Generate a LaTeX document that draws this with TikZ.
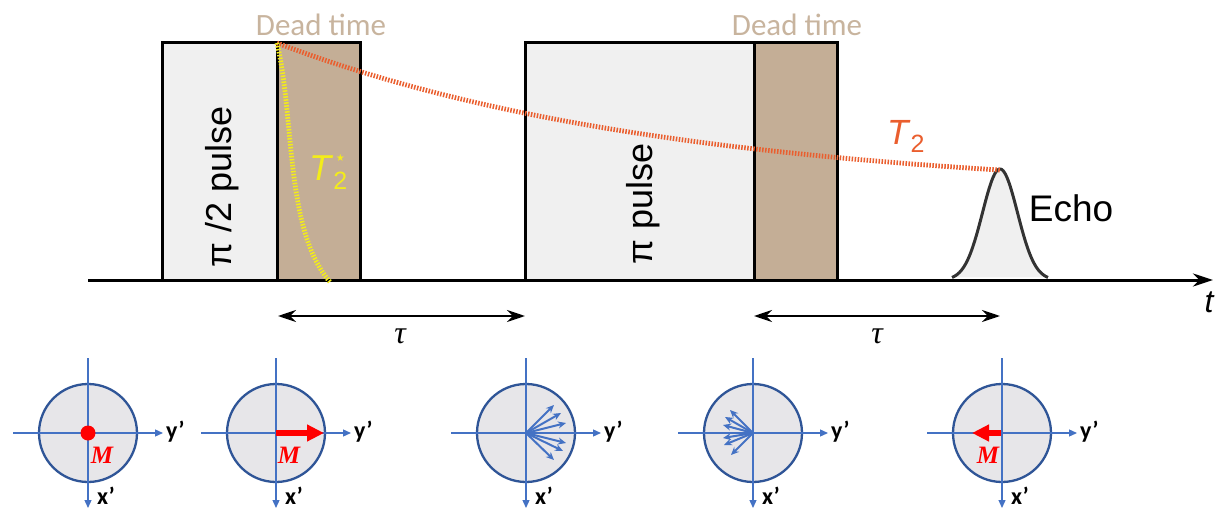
\documentclass[tikz,border=0pt]{standalone}
\usepackage{fontspec}
\setmainfont{Liberation Sans}
\newfontfamily\carlito{Carlito}
\newfontfamily\lserif{Liberation Serif}
\newfontfamily\djv{DejaVu Sans}
\usetikzlibrary{arrows.meta,calc}
\definecolor{boxfill}{HTML}{F0F0F0}
\definecolor{deadfill}{HTML}{C4AE96}
\definecolor{deadtxt}{HTML}{C8B49E}
\definecolor{tworange}{HTML}{EA5E2E}
\definecolor{twyellow}{HTML}{F3EC1A}
\definecolor{echoline}{HTML}{333333}
\definecolor{axblue}{HTML}{4472C4}
\definecolor{cstroke}{HTML}{2F5597}
\definecolor{cfill}{HTML}{E7E6E9}
\begin{document}
\begin{tikzpicture}[x=1pt,y=-1pt,
  pulsebox/.style={draw=black, line width=3pt, fill=boxfill, inner sep=0pt, outer sep=0pt, minimum height=237pt},
  deadbox/.style={pulsebox, fill=deadfill},
  decay/.style={line width=4.8pt, dash pattern=on 1.5pt off 1.5pt},
  deadlbl/.style={text=deadtxt, font=\carlito\fontsize{31}{31}\selectfont},
  pulselbl/.style={rotate=90, font=\fontsize{36}{36}\selectfont},
  tauarrow/.style={line width=2.5pt, {Stealth[length=18pt,width=12pt]}-{Stealth[length=18pt,width=12pt]}},
  phase/.style={circle, draw=cstroke, fill=cfill, line width=2.3pt, minimum size=98pt, inner sep=0pt},
  axisl/.style={draw=axblue, line width=1.3pt, -{Triangle[length=8pt,width=7pt]}},
  fan/.style={draw=axblue, line width=2pt, -{Stealth[length=8pt,width=7pt]}},
  magarrow/.style={draw=red, line width=6pt, -{Triangle[length=17pt,width=16pt]}},
  axlbl/.style={anchor=west, inner sep=1pt, font=\carlito\bfseries\fontsize{24}{24}\selectfont},
  mlbl/.style={text=red, font=\lserif\bfseries\itshape\fontsize{25}{25}\selectfont},
  taulbl/.style={font=\lserif\itshape\fontsize{32}{32}\selectfont}
]
\useasboundingbox (0,0) rectangle (1232,511);

% pulse boxes
\node[pulsebox, minimum width=115pt] (p1) at (219.5,161.5) {};
\node[deadbox, minimum width=83pt] (d1) at (318.5,161.5) {};
\node[pulsebox, minimum width=229pt] (p2) at (639.5,161.5) {};
\node[deadbox, minimum width=83pt] (d2) at (795.5,161.5) {};

\node[pulselbl] (p1t) at (222,187) {π /2 pulse};
\node[pulselbl] (p2t) at (643,204) {π pulse};

\node[deadlbl] (dl1) at (321,25) {Dead time};
\node[deadlbl] (dl2) at (797,25) {Dead time};

% time axis
\coordinate (t0) at (88,280);
\coordinate (t1) at (1213,280);
\draw[line width=3pt, -{Stealth[length=20pt,width=13pt]}] (t0) -- (t1);
\node[font=\itshape\fontsize{32}{32}\selectfont] (tl) at (1209,302) {t};

% echo
\draw[fill=boxfill, draw=echoline, line width=3pt, line join=round]
  plot[domain=952:1048, samples=80] (\x, {280-111*exp(-((\x-1000)/17.5)^2/2)});
\node[font=\fontsize{37}{37}\selectfont] (echo) at (1071,208) {Echo};

% decay curves
\draw[decay, draw=tworange] plot[domain=277:1000, samples=90] (\x, {43+152*(1-exp(-(\x-277)/400))});
\draw[decay, draw=twyellow] (277,43) .. controls (295,120) and (285,230) .. (330,282);

\node[text=twyellow, font=\fontsize{36}{36}\selectfont, anchor=west, inner sep=0pt] (t2s) at (309,172)
  {\textit{T}\raisebox{-9pt}{\fontsize{25}{25}\selectfont 2}\hspace{-13pt}\raisebox{16pt}{\djv\fontsize{20}{20}\selectfont ⋆}};
\node[text=tworange, font=\fontsize{35}{35}\selectfont, anchor=west, inner sep=0pt] (t2) at (887,136)
  {\textit{T}\raisebox{-8pt}{\fontsize{25}{25}\selectfont 2}};

% tau arrows
\coordinate (ta1) at (278,316);
\coordinate (tb1) at (525,316);
\draw[tauarrow] (ta1) -- (tb1);
\node[taulbl] (tau1) at (400,336) {τ};
\coordinate (ta2) at (754,316);
\coordinate (tb2) at (1000,316);
\draw[tauarrow] (ta2) -- (tb2);
\node[taulbl] (tau2) at (877,336) {τ};

% phase circles
\foreach \i/\cx in {1/88, 2/276, 3/526, 4/753, 5/1002} {
  \node[phase] (c\i) at (\cx,433) {};
  \draw[axisl] ([xshift=-75pt]c\i.center) -- ([xshift=75pt]c\i.center);
  \draw[axisl] ([yshift=75pt]c\i.center) -- ([yshift=-75pt]c\i.center);
  \node[axlbl] (y\i) at ([xshift=77pt,yshift=1pt]c\i.center) {y’};
  \node[axlbl] (x\i) at ([xshift=8pt,yshift=-63pt]c\i.center) {x’};
}

% circle 1: magnetisation dot
\fill[red] (c1.center) circle (7.5);
\node[mlbl] (m1) at ([xshift=14pt,yshift=-22pt]c1.center) {M};

% circle 2: magnetisation along y'
\coordinate (m2e) at ([xshift=48pt]c2.center);
\draw[magarrow] (c2.center) -- (m2e);
\node[mlbl] (m2) at ([xshift=13pt,yshift=-22pt]c2.center) {M};

% circle 3: dephasing fan
\foreach \dx/\dy in {28/-28, 35/-20, 40/-10, 40/10, 37/18, 28/27}
  \draw[fan] (c3.center) -- ++(\dx,\dy);

% circle 4: refocusing fan
\foreach \dx/\dy in {-23/-23, -28/-16, -30/-8, -30/5, -29/12, -22/22}
  \draw[fan] (c4.center) -- ++(\dx,\dy);

% circle 5: echo magnetisation along -y'
\coordinate (m5s) at ([xshift=-1pt]c5.center);
\coordinate (m5e) at ([xshift=-30pt]c5.center);
\draw[magarrow] (m5s) -- (m5e);
\node[mlbl] (m5) at ([xshift=-14pt,yshift=-22pt]c5.center) {M};
\end{tikzpicture}
\end{document}
